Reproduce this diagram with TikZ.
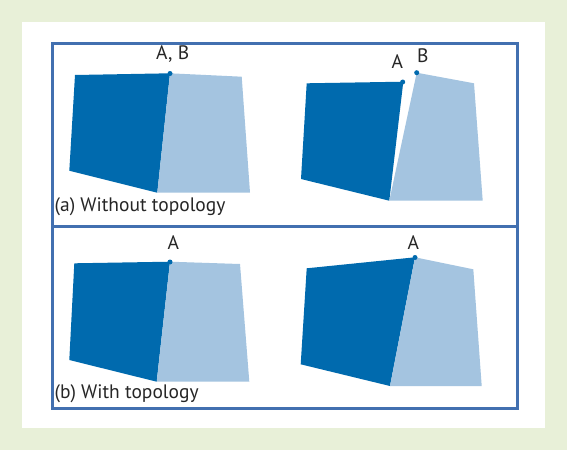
\documentclass[tikz,border=0pt]{standalone}
\usepackage{fontspec}
\setmainfont{PT Sans}
\definecolor{bggreen}{RGB}{232,240,216}
\definecolor{framecol}{RGB}{66,112,176}
\definecolor{darkb}{RGB}{0,106,174}
\definecolor{lightb}{RGB}{164,196,224}
\begin{document}
\begin{tikzpicture}[x=1pt,y=-1pt,
  darkpoly/.style={fill=darkb,draw=none},
  lightpoly/.style={fill=lightb,draw=none},
  vdot/.style={circle,fill=darkb,inner sep=0pt,minimum size=5pt},
  lbl/.style={font=\fontsize{19.5}{22}\selectfont,text=black!85,inner sep=0pt},
  captxt/.style={font=\fontsize{19.5}{22}\selectfont,text=black!85,inner sep=0pt,anchor=west},
  panel/.style={draw=framecol,line width=3pt}]
\useasboundingbox (0,0) rectangle (567,450);
\fill[bggreen] (0,0) rectangle (567,450);
\fill[white] (22,22) rectangle (545,428);
\draw[panel] (52,43) rectangle (517,226);
\draw[panel] (52,226) rectangle (517,408);
% (a) left
\fill[darkpoly] (75,75) -- (170,73.3) -- (157.3,192.7) -- (69.3,170.7) -- cycle;
\fill[lightpoly] (170,73.3) -- (241.7,76.7) -- (250,192.7) -- (157.3,192.7) -- cycle;
\node[vdot] (ab1) at (170,73.5) {};
\node[lbl] (lab1) at (172.7,54.5) {A, B};
% (a) right
\fill[darkpoly] (306.7,83.3) -- (403.3,81.7) -- (389.3,200.7) -- (301,179) -- cycle;
\fill[lightpoly] (416.7,72.7) -- (474,83.3) -- (482.7,200.7) -- (389.3,200.7) -- cycle;
\node[vdot] (a2) at (402.7,82) {};
\node[vdot] (b2) at (416.7,72.7) {};
\node[lbl] (la2) at (397.3,62) {A};
\node[lbl] (lb2) at (422.7,56) {B};
\node[captxt] (capa) at (54.5,207) {(a) Without topology};
% (b) left
\fill[darkpoly] (74.3,263.3) -- (170,261.7) -- (156.7,381.7) -- (69.3,360) -- cycle;
\fill[lightpoly] (170,261.7) -- (240,264) -- (249.3,381.7) -- (156.7,381.7) -- cycle;
\node[vdot] (a3) at (170,262) {};
\node[lbl] (la3) at (173.3,243) {A};
% (b) right
\fill[darkpoly] (306.7,268.3) -- (415,257.3) -- (390,386) -- (300.7,364.3) -- cycle;
\fill[lightpoly] (415,257.3) -- (473.3,269.3) -- (481.7,386) -- (390,386) -- cycle;
\node[vdot] (a4) at (415,257.5) {};
\node[lbl] (la4) at (413.3,243) {A};
\node[captxt] (capb) at (54.5,393.5) {(b) With topology};
\end{tikzpicture}
\end{document}
